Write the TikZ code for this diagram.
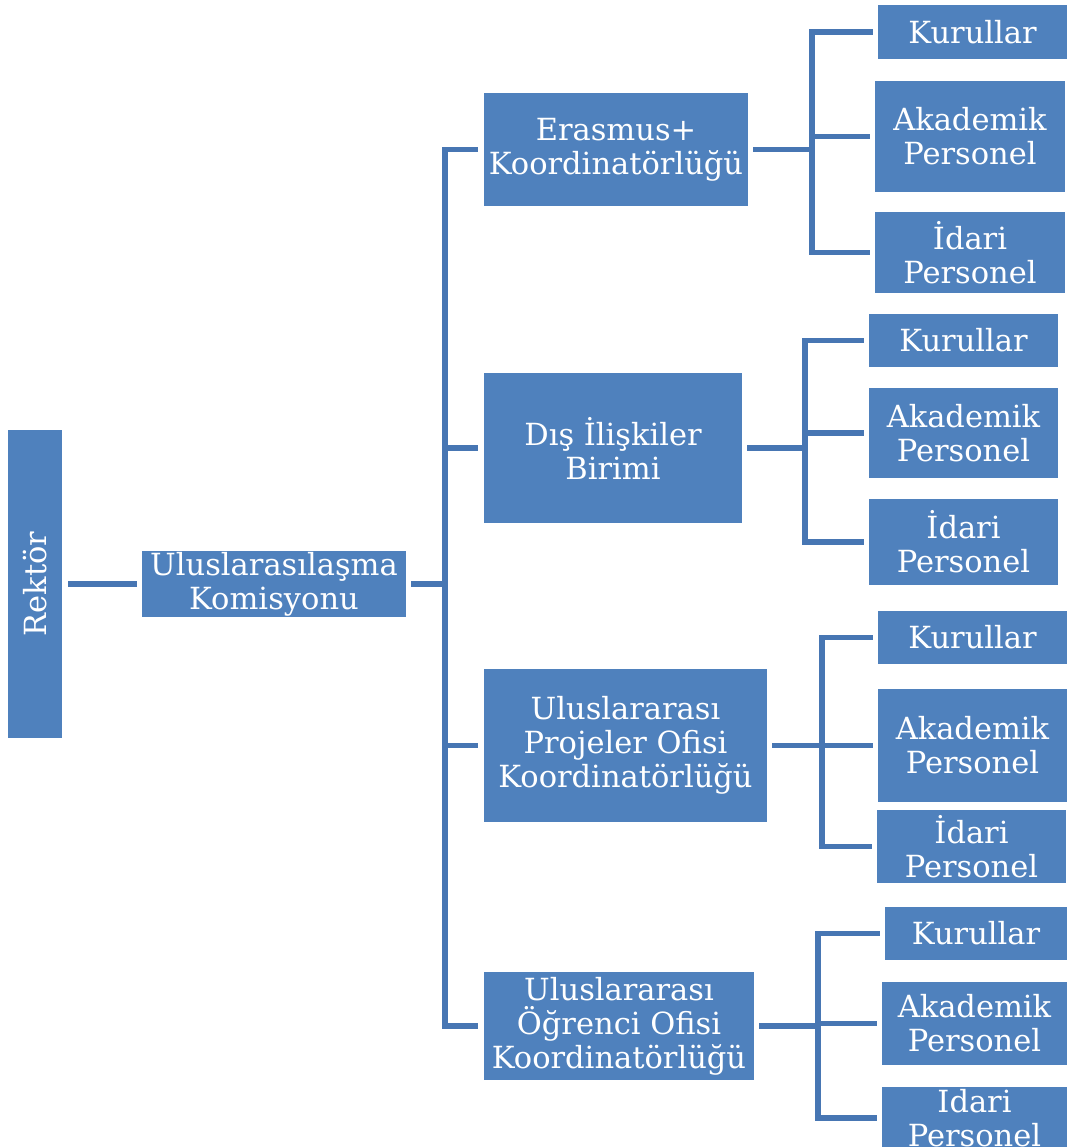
\documentclass[tikz,border=0pt]{standalone}
\usepackage{fontspec}
\setmainfont{DejaVu Serif}
\definecolor{boxblue}{HTML}{4F81BD}
\definecolor{lineblue}{HTML}{4776B3}
\begin{document}
\begin{tikzpicture}[x=1pt,y=-1pt,
  box/.style={fill=boxblue, draw=none, inner sep=0pt, text=white, align=center,
    font=\fontsize{30.5}{34}\selectfont},
  conn/.style={draw=lineblue, line width=5.5pt, line join=miter, line cap=rect}]
\useasboundingbox (0,0) rectangle (1067,1147);
\clip (0,0) rectangle (1067,1147);
\fill[white] (0,0) rectangle (1067,1147);

% main column
\node[box, minimum width=54, minimum height=308,
  label={[rotate=90,text=white,font=\fontsize{30.5}{34}\selectfont]center:Rektör}] (rek) at (35,584) {};
\node[box, minimum width=264, minimum height=66] (kom) at (274,584) {Uluslarasılaşma\\Komisyonu};

% second level
\node[box, minimum width=264, minimum height=113] (era) at (616,149.5) {Erasmus+\\Koordinatörlüğü};
\node[box, minimum width=258, minimum height=150] (dis) at (613,448) {Dış İlişkiler\\Birimi};
\node[box, minimum width=283, minimum height=153] (pro) at (625.5,745.5) {Uluslararası\\Projeler Ofisi\\Koordinatörlüğü};
\node[box, minimum width=270, minimum height=108] (ogr) at (619,1026) {Uluslararası\\Öğrenci Ofisi\\Koordinatörlüğü};

% group 1
\node[box, minimum width=189, minimum height=54] (k1) at (972.5,32) {Kurullar};
\node[box, minimum width=190, minimum height=111] (a1) at (970,136.5) {Akademik\\Personel};
\node[box, minimum width=190, minimum height=81] (i1) at (970,252.5) {İdari\\Personel};
% group 2
\node[box, minimum width=189, minimum height=53] (k2) at (963.5,340.5) {Kurullar};
\node[box, minimum width=189, minimum height=90] (a2) at (963.5,433) {Akademik\\Personel};
\node[box, minimum width=189, minimum height=86] (i2) at (963.5,542) {İdari\\Personel};
% group 3
\node[box, minimum width=189, minimum height=53] (k3) at (972.5,637.5) {Kurullar};
\node[box, minimum width=189, minimum height=113] (a3) at (972.5,745.5) {Akademik\\Personel};
\node[box, minimum width=189, minimum height=73] (i3) at (971.5,846.5) {İdari\\Personel};
% group 4
\node[box, minimum width=182, minimum height=53] (k4) at (976,933.5) {Kurullar};
\node[box, minimum width=185, minimum height=83] (a4) at (974.5,1023.5) {Akademik\\Personel};
\node[box, minimum width=185, minimum height=62] (i4) at (974.5,1118) {Idari\\Personel};

% junction coordinates
\coordinate (tr) at (445,584);
\coordinate (g1) at (812,149);
\coordinate (g2) at (805,448);
\coordinate (g3) at (822,745);
\coordinate (g4) at (818,1026);

% connectors, main
\draw[conn, shorten <=9pt, shorten >=8pt] (rek.east) -- (kom.west);
\draw[conn, shorten <=8pt] (kom.east) -- (tr);
\draw[conn] (tr |- era.west) -- (tr |- ogr.west);
\foreach \n in {era,dis,pro,ogr}
  \draw[conn, shorten >=9pt] (tr |- \n.west) -- (\n.west);

% groups
\foreach \g/\p/\k/\a/\i in {g1/era/k1/a1/i1, g2/dis/k2/a2/i2, g3/pro/k3/a3/i3, g4/ogr/k4/a4/i4}{
  \draw[conn, shorten <=8pt] (\p.east) -- (\g |- \p.east);
  \draw[conn] (\g |- \k.west) -- (\g |- \i.west);
  \draw[conn, shorten >=8pt] (\g |- \k.west) -- (\k.west);
  \draw[conn, shorten >=8pt] (\g |- \a.west) -- (\a.west);
  \draw[conn, shorten >=8pt] (\g |- \i.west) -- (\i.west);
}
\end{tikzpicture}
\end{document}
